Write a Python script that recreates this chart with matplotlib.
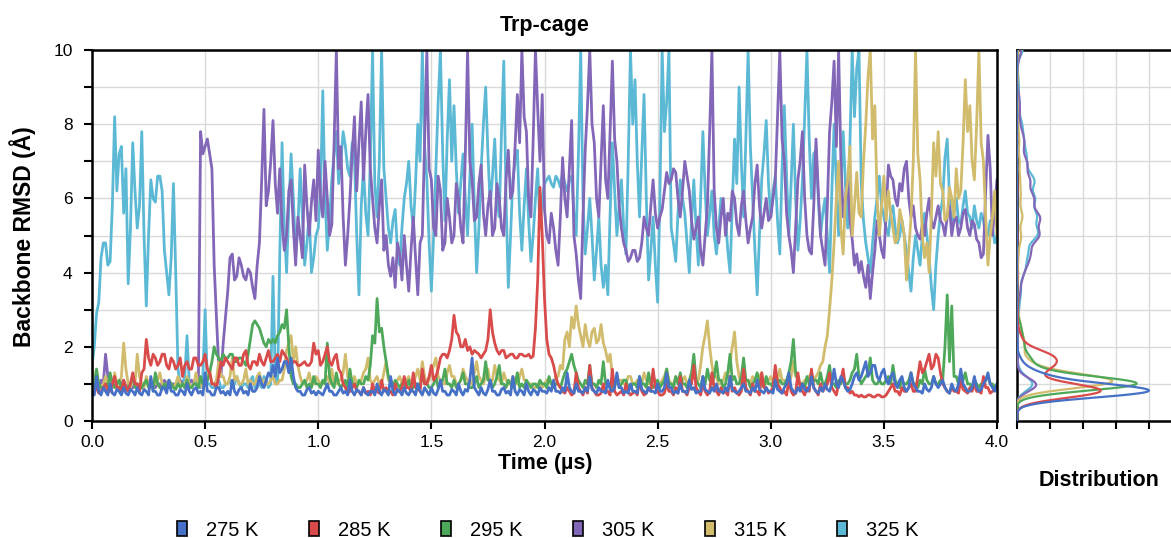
import numpy as np
import matplotlib
matplotlib.use("Agg")
import matplotlib.pyplot as plt
from matplotlib.patches import Patch

plt.rcParams['font.family'] = ['Liberation Sans', 'DejaVu Sans']

# ---------------- data (backbone RMSD in Å, one value every 0.01 µs, 0 .. 4 µs) ----------------
time_us = np.linspace(0.0, 4.0, 401)
labels = ["275 K", "285 K", "295 K", "305 K", "315 K", "325 K"]
colors = ["#4671c6", "#d94a4a", "#4ea85a", "#8266b8", "#d1bb6c", "#5cb9d5"]

rmsd_275 = [
    0.8,0.7,1.2,0.8,0.7,0.9,0.8,0.7,1.0,0.75,0.7,0.85,0.8,0.7,0.9,0.75,0.7,0.85,0.8,0.7,
    0.9,0.75,0.7,0.85,0.8,0.7,1.2,0.8,0.8,0.7,0.7,0.9,0.9,0.75,1.1,0.8,0.8,0.7,0.7,0.85,
    0.8,0.7,1.0,0.8,0.7,0.85,0.9,0.75,0.8,0.7,1.3,0.8,0.8,0.7,0.7,0.9,0.9,0.75,0.8,0.7,
    0.8,0.7,1.1,0.8,0.7,0.85,0.9,0.75,0.8,0.7,1.0,0.8,0.8,0.9,1.2,1.0,0.9,1.1,1.3,1.2,
    1.5,1.2,1.7,1.3,1.4,1.6,1.6,1.3,1.7,1.2,0.9,0.8,0.8,0.7,0.7,0.85,0.9,0.75,0.8,0.7,
    0.8,0.75,0.7,0.85,1.0,0.8,0.8,0.7,0.7,0.8,0.9,0.75,0.8,0.7,1.1,0.8,0.7,0.85,0.8,0.7,
    0.9,0.75,0.7,0.8,0.8,0.7,1.0,0.8,0.7,0.85,0.8,0.7,1.2,0.8,0.7,0.85,0.8,0.7,0.9,0.75,
    0.7,0.85,0.8,0.7,1.0,0.8,0.7,0.9,0.8,0.7,0.9,0.75,0.7,0.85,1.1,0.8,0.8,0.7,0.7,0.85,
    0.8,0.7,1.0,0.8,0.7,0.85,0.8,1.1,1.7,0.9,0.8,0.7,0.9,0.75,0.7,0.85,1.1,0.8,0.8,0.7,
    0.7,0.85,0.9,0.75,0.8,0.7,1.2,0.8,0.7,0.85,0.8,0.7,1.0,0.8,0.7,0.85,0.8,0.7,0.9,0.8,
    0.8,0.75,0.9,0.8,1.1,0.8,0.8,0.75,0.9,0.8,1.3,0.9,0.8,0.75,1.0,0.8,0.8,0.75,0.9,0.8,
    1.2,0.85,0.8,0.75,0.9,0.8,0.8,0.75,1.1,0.85,0.8,0.9,1.3,0.9,0.9,0.75,0.8,0.75,1.0,0.8,
    0.8,0.75,1.2,0.85,0.8,0.75,0.9,0.8,0.8,0.75,1.0,0.8,0.8,0.9,1.3,0.9,0.9,0.75,0.8,0.75,
    1.0,0.8,0.8,0.75,1.1,0.85,0.9,0.75,0.8,0.8,1.2,0.85,0.8,0.75,0.9,0.8,1.0,0.8,0.8,0.75,
    0.9,0.8,1.2,0.85,0.8,0.75,0.8,0.9,1.0,0.8,0.8,0.75,0.9,0.8,1.1,0.85,0.8,0.75,0.9,0.8,
    0.8,0.75,1.1,0.85,0.8,0.75,0.9,1.0,1.3,0.9,0.8,0.75,0.9,0.8,1.0,0.85,0.8,0.9,1.2,0.9,
    0.8,0.75,0.9,0.8,1.0,0.85,0.8,1.0,1.4,1.0,0.9,1.2,1.1,0.9,0.8,0.85,1.0,1.2,1.3,1.1,
    1.2,1.4,1.6,1.2,1.3,1.5,1.5,1.2,1.1,1.3,1.4,1.1,1.0,1.2,1.3,1.0,0.9,1.1,1.2,0.9,
    0.8,0.9,1.3,1.0,0.9,0.8,0.8,0.75,1.0,0.85,0.8,0.9,1.2,1.0,0.9,1.0,1.1,0.9,0.8,0.75,
    1.0,0.85,0.8,1.0,1.4,1.0,0.9,0.8,0.8,0.9,1.2,0.9,0.8,0.85,1.0,1.1,1.3,1.0,0.9,0.8,
    1.0,
]

rmsd_285 = [
    0.7,0.8,0.9,0.75,0.8,0.9,1.0,0.8,0.8,1.0,1.2,0.9,0.9,0.8,1.1,0.9,0.8,1.0,1.3,1.0,
    1.0,0.8,1.3,1.4,2.2,1.7,1.5,1.8,1.7,1.5,1.6,1.8,1.8,1.5,1.4,1.7,1.6,1.4,1.5,1.7,
    1.2,1.5,1.6,1.4,1.4,1.7,1.7,1.5,1.5,1.6,1.8,1.4,1.3,1.0,1.0,0.9,1.2,1.6,1.5,1.7,
    1.6,1.5,1.4,1.7,1.7,1.5,1.5,1.8,1.9,1.5,1.4,1.6,1.6,1.5,1.8,1.6,1.5,1.7,1.9,1.6,
    1.6,1.7,1.8,1.6,1.9,1.8,1.7,1.5,1.5,1.6,1.6,1.5,1.5,1.55,1.6,1.5,1.5,1.6,2.1,1.8,
    1.9,1.5,1.6,1.8,2.0,1.6,1.5,1.7,1.8,1.4,1.3,1.0,0.9,0.75,0.8,0.9,1.0,0.8,0.8,0.7,
    0.9,0.75,0.8,0.7,1.0,0.8,0.8,0.75,1.1,0.8,0.9,0.75,0.8,0.7,1.0,0.8,0.8,0.9,1.2,0.9,
    0.9,0.8,1.3,0.9,0.9,0.8,1.4,1.0,1.0,1.2,1.5,1.1,1.2,1.4,1.7,1.8,1.8,1.7,1.9,2.2,
    2.85,2.4,2.3,2.0,2.0,2.2,1.9,2.0,1.8,1.9,1.85,1.8,1.7,1.8,1.9,2.2,3.0,2.4,2.1,1.9,
    1.8,1.9,1.9,1.7,1.75,1.8,1.8,1.7,1.7,1.8,1.8,1.75,1.75,1.8,1.7,1.75,2.5,3.8,6.3,5.0,
    3.3,2.2,1.8,1.7,1.5,1.2,1.0,0.9,0.8,0.75,0.9,0.8,0.7,0.75,1.3,0.9,0.8,0.7,0.9,0.75,
    1.5,0.9,0.8,0.7,0.7,0.75,1.0,0.8,0.8,0.7,1.4,0.8,0.7,0.75,0.8,0.7,1.0,0.8,0.7,0.75,
    0.8,0.7,1.1,0.8,0.7,0.75,0.9,0.8,1.4,0.9,0.8,0.7,0.7,0.75,1.0,0.8,0.8,0.7,0.9,0.75,
    1.2,0.8,0.8,0.7,0.9,1.0,1.5,0.9,0.8,0.7,1.0,0.8,0.7,0.8,1.3,0.9,0.8,0.7,0.9,0.75,
    0.8,0.7,1.2,0.8,0.9,0.75,0.7,0.8,1.4,0.9,0.8,0.7,1.0,0.8,0.8,0.7,1.3,0.9,0.9,0.75,
    0.8,0.9,1.5,1.0,0.9,0.75,0.8,0.7,1.1,0.8,0.7,0.75,1.3,0.9,0.8,0.7,0.9,0.8,1.4,0.9,
    0.8,0.7,1.0,0.8,0.9,1.0,1.3,0.9,0.8,0.7,1.0,1.1,1.4,0.9,0.9,0.75,0.8,0.7,0.7,0.65,
    0.7,0.65,0.65,0.7,0.7,0.65,0.65,0.7,0.7,0.65,0.65,0.7,0.8,0.9,1.0,0.8,0.8,0.7,0.9,0.8,
    0.8,0.9,1.0,0.8,0.8,1.2,1.6,1.3,1.4,1.6,1.8,1.4,1.5,1.8,1.7,1.3,1.0,0.9,0.8,0.75,
    0.9,0.8,0.8,0.75,1.1,0.85,0.8,0.75,0.9,0.8,1.0,0.8,0.8,0.75,1.2,0.9,0.9,0.75,0.8,0.85,
    0.9,
]

rmsd_295 = [
    0.9,1.0,1.4,1.0,0.9,0.85,1.0,0.9,1.3,1.0,0.9,1.0,1.1,0.9,1.0,0.85,0.9,1.0,1.2,0.9,
    1.0,0.85,0.9,1.0,1.1,0.9,1.0,0.85,1.3,1.0,0.9,0.85,1.0,0.9,1.1,1.0,0.9,0.85,1.0,0.9,
    1.0,0.9,1.1,0.9,0.9,1.0,1.0,0.9,1.2,1.0,1.0,1.1,1.3,1.6,2.0,1.8,1.7,1.6,1.8,1.7,
    1.7,1.8,1.8,1.6,1.6,1.7,1.7,1.6,1.5,1.8,2.2,2.6,2.7,2.6,2.5,2.3,2.1,2.0,2.2,2.1,
    2.2,2.1,2.3,2.4,2.6,2.5,3.0,2.0,1.2,1.0,1.0,0.9,0.9,1.0,1.1,0.9,1.0,0.9,1.2,1.0,
    1.0,0.9,1.1,1.0,2.1,1.2,1.0,0.9,1.3,1.0,0.9,1.0,1.1,0.9,1.4,1.0,1.0,0.9,1.1,1.0,
    1.0,1.2,1.1,1.5,2.3,2.1,3.3,2.4,2.5,2.0,1.6,1.2,1.0,0.9,1.1,1.0,0.9,1.0,1.0,0.9,
    1.1,0.9,0.9,1.0,1.0,0.9,1.3,1.0,1.0,0.9,0.9,1.0,1.2,0.9,1.0,1.1,1.4,1.0,1.0,0.9,
    1.1,0.9,1.0,1.1,1.3,1.0,1.0,0.9,0.9,1.0,1.2,0.9,1.0,1.1,1.6,1.1,1.1,0.9,1.0,1.2,
    1.5,1.0,1.0,0.9,1.1,1.0,0.9,1.0,1.3,0.9,1.0,0.9,1.1,1.0,0.9,1.0,1.0,0.9,1.1,1.0,
    1.0,0.9,1.2,1.0,0.9,1.0,1.0,0.9,1.1,1.3,1.4,1.6,1.8,1.5,1.3,1.1,1.0,0.9,1.1,1.0,
    1.5,1.0,1.0,0.9,1.1,1.0,1.6,1.0,1.0,0.9,0.9,1.0,1.2,0.9,1.0,1.1,1.1,0.9,0.9,1.0,
    1.0,0.9,1.2,1.0,1.0,0.9,1.3,1.0,0.9,1.0,1.1,0.9,1.0,1.1,1.4,1.0,1.0,0.9,1.2,1.0,
    1.3,1.0,1.0,0.9,1.1,1.3,1.8,1.1,1.0,0.9,1.2,1.0,1.4,1.1,1.0,1.2,1.6,1.1,1.1,0.9,
    1.0,1.3,1.8,1.1,1.2,1.0,1.0,1.2,1.7,1.1,1.1,0.9,1.0,1.1,1.3,1.0,1.0,0.9,1.2,1.0,
    1.0,0.9,1.4,1.0,1.1,1.0,1.0,1.1,1.3,1.6,2.2,1.3,1.1,1.0,1.0,0.9,1.2,1.0,1.0,1.1,
    1.1,1.0,1.3,1.0,1.0,1.2,1.5,1.0,1.0,0.9,1.1,1.0,1.2,1.0,1.0,1.1,1.3,1.4,1.8,1.2,
    1.0,1.1,1.2,1.3,1.7,1.1,1.0,1.0,1.1,1.0,1.0,1.1,1.2,1.0,1.5,1.1,1.0,0.9,1.1,1.0,
    1.0,1.1,1.3,1.0,1.0,0.9,1.1,1.0,1.4,1.1,1.0,1.0,1.2,1.0,1.0,1.1,1.1,2.0,3.4,1.6,
    3.1,1.2,1.2,1.0,1.0,1.1,1.3,1.0,1.0,0.9,1.1,1.0,0.9,1.0,1.0,1.1,1.2,1.0,1.0,0.9,
    1.0,
]

rmsd_305 = [
    0.9,1.0,1.0,0.9,1.1,1.0,1.8,1.2,0.9,1.0,1.0,0.9,0.9,1.0,1.1,0.9,1.0,0.9,0.9,1.0,
    1.0,0.9,0.9,1.0,1.1,1.0,1.0,0.9,0.9,1.0,1.0,0.9,1.1,1.0,0.9,1.0,1.0,0.9,1.0,1.1,
    1.0,0.9,0.9,1.0,1.1,1.0,1.0,0.9,7.8,7.2,7.4,7.6,7.2,6.8,4.2,2.8,1.5,1.2,2.1,2.8,
    3.5,4.4,4.5,3.8,3.9,4.4,4.2,3.9,3.8,4.1,4.0,3.6,3.3,4.2,4.8,6.5,8.4,5.8,6.2,7.0,
    8.1,6.4,5.6,6.8,5.3,4.6,5.0,6.2,6.5,5.2,4.2,5.5,5.0,4.4,6.9,5.8,5.0,5.9,6.5,5.4,
    7.3,6.0,5.5,7.0,6.0,5.0,5.3,7.5,10.0,6.8,7.4,5.5,4.2,5.0,6.0,7.2,8.2,6.2,7.5,8.6,
    6.5,7.8,8.8,6.8,6.0,5.2,4.8,5.8,6.5,4.6,5.0,4.2,3.9,4.4,3.6,4.8,4.5,3.8,5.0,4.2,
    3.5,4.6,5.5,4.4,3.4,4.8,5.0,7.5,10.0,6.8,6.5,5.2,5.0,6.6,6.2,4.6,4.8,6.0,5.5,4.8,
    5.0,6.4,6.0,5.2,4.8,7.2,10.0,7.0,6.5,5.4,5.5,6.4,6.9,5.6,5.0,5.8,6.2,5.0,5.2,6.4,
    6.0,5.2,5.0,6.5,7.3,6.0,6.2,7.4,8.8,7.5,10.0,8.2,7.8,6.0,5.5,7.6,10.0,8.4,7.0,8.8,
    5.7,5.0,4.8,5.6,5.2,4.6,4.2,5.5,7.1,6.0,5.5,6.8,8.1,5.0,4.5,3.8,3.3,5.5,7.3,8.5,
    10.0,8.0,7.5,6.0,5.5,7.0,8.5,6.5,6.0,7.8,9.7,7.6,7.0,5.8,5.2,4.8,4.6,4.3,4.4,4.6,
    4.6,4.3,4.4,4.8,5.5,5.2,5.0,5.8,6.5,5.6,5.2,5.5,5.7,6.2,6.7,6.4,6.5,6.8,6.7,6.0,
    5.5,6.2,7.0,6.6,6.2,5.4,4.9,5.2,5.5,4.6,4.2,5.0,5.8,7.8,10.0,6.2,5.2,4.8,5.5,6.0,
    5.0,5.6,5.4,6.2,6.0,5.3,5.0,5.8,6.2,5.4,4.8,5.2,5.5,6.4,6.9,5.8,5.2,5.6,6.0,5.4,
    5.5,6.0,6.5,8.2,10.0,7.6,7.0,5.6,5.0,4.6,4.0,5.2,6.5,7.0,7.8,6.0,5.0,4.6,4.5,5.8,
    7.6,6.2,5.0,4.6,4.2,5.8,7.8,8.6,9.7,7.4,10.0,7.0,5.5,6.0,6.5,5.4,4.9,4.2,4.5,4.0,
    4.3,3.9,3.6,4.2,3.3,4.0,4.6,5.4,5.0,4.6,4.4,5.6,6.9,6.6,6.5,6.0,5.8,6.4,6.2,6.8,
    7.0,6.0,5.5,5.8,5.2,5.0,4.9,5.3,5.0,5.6,6.0,5.4,5.2,5.5,5.8,5.4,5.3,5.0,5.5,5.8,
    5.0,5.4,5.5,5.0,5.2,5.6,5.7,5.2,5.0,5.4,5.3,4.9,4.8,4.4,4.5,6.2,7.7,6.8,5.0,5.8,
    6.5,
]

rmsd_315 = [
    1.5,1.0,1.1,0.9,0.9,1.0,1.2,1.0,1.0,0.9,1.3,1.0,1.0,1.2,2.1,1.4,1.0,0.9,1.2,1.0,
    1.8,1.2,1.0,0.9,1.2,1.0,0.9,1.0,1.0,1.1,1.3,1.0,1.0,0.9,1.1,1.0,0.9,1.0,1.2,1.0,
    1.0,0.9,1.2,1.0,0.9,1.0,1.3,1.0,1.0,0.9,1.1,1.2,1.4,1.0,1.0,1.1,1.6,1.2,1.2,1.0,
    1.0,1.2,1.7,1.1,1.2,1.0,1.0,1.1,1.4,1.0,1.1,1.0,1.0,1.2,1.3,1.0,1.1,1.0,1.0,1.1,
    1.2,1.0,1.0,1.1,1.1,1.4,1.9,2.1,2.3,1.6,2.0,1.5,1.2,1.0,1.0,1.1,1.3,1.0,1.0,1.2,
    1.1,1.0,1.0,1.1,1.2,1.0,1.4,1.0,1.0,1.1,1.1,1.3,1.8,1.2,1.0,1.0,1.2,1.0,1.0,1.1,
    1.3,1.4,1.7,1.1,1.0,1.1,1.2,1.0,1.0,1.3,1.6,1.1,1.1,1.0,1.0,1.1,1.2,1.0,1.0,1.1,
    1.2,1.0,1.0,1.2,1.4,1.1,1.6,1.2,1.0,1.1,1.3,1.5,1.7,1.2,1.1,1.0,1.0,1.3,1.5,1.2,
    1.2,1.0,1.0,1.1,1.4,1.2,1.1,1.0,1.0,1.3,1.6,1.2,1.1,1.0,1.2,1.4,1.0,1.1,1.5,1.2,
    1.1,1.0,1.3,1.1,1.0,1.0,1.2,1.1,1.0,1.2,1.4,1.1,1.1,1.0,1.0,0.9,0.9,1.0,1.0,0.9,
    1.0,1.1,1.1,1.0,1.0,1.2,1.2,1.5,1.4,2.2,2.4,2.0,2.8,2.5,3.1,2.6,2.3,2.0,2.6,2.2,
    2.0,2.4,2.5,2.1,2.2,2.6,2.1,1.9,1.6,1.8,1.2,1.0,1.0,1.1,1.1,1.0,1.0,1.2,1.2,1.0,
    1.0,1.1,1.1,1.0,1.3,1.1,1.0,1.0,1.2,1.1,1.0,1.0,1.1,1.2,1.4,1.1,1.0,1.0,1.2,1.1,
    1.0,1.1,1.2,1.0,1.0,1.1,1.3,1.1,1.1,1.5,2.0,2.3,2.7,2.0,1.5,1.2,1.2,1.0,1.0,1.1,
    1.3,1.2,1.6,2.0,2.4,1.6,1.2,1.0,1.0,1.1,1.1,1.0,1.2,1.1,1.0,1.2,1.3,1.0,1.0,1.1,
    1.2,1.0,1.0,1.1,1.4,1.1,1.1,1.0,1.0,1.2,1.6,1.2,1.2,1.0,1.0,1.1,1.1,1.2,1.3,1.1,
    1.2,1.3,1.5,1.6,2.0,2.3,3.0,3.8,4.8,6.0,7.0,5.2,4.5,6.0,6.5,7.4,5.0,5.8,6.7,5.6,
    5.5,7.0,8.0,9.3,10.0,7.6,8.5,6.0,5.0,5.8,6.6,5.4,6.2,5.6,5.2,4.8,4.9,5.7,5.4,5.0,
    3.8,4.6,5.5,7.0,10.0,7.2,6.5,5.0,4.4,4.8,4.0,5.6,7.5,6.6,7.8,6.4,6.2,5.4,5.5,6.3,
    6.0,5.5,6.8,6.0,6.2,7.5,9.2,7.8,8.5,7.0,6.5,8.0,10.0,7.5,7.0,5.5,4.2,5.0,5.5,6.2,
    5.0,
]

rmsd_325 = [
    1.5,2.0,2.9,3.2,4.4,4.8,4.8,4.2,4.3,5.8,8.2,6.2,7.2,7.4,5.6,6.8,3.7,5.2,7.5,6.2,
    5.2,5.8,7.8,5.0,3.1,5.0,6.5,6.0,5.9,6.6,6.6,6.2,4.6,4.0,3.4,4.4,6.4,4.0,1.4,1.0,
    1.0,1.2,2.3,1.0,0.9,1.0,1.1,0.9,0.9,1.2,3.0,1.0,1.0,0.9,0.9,1.1,1.1,0.9,0.9,1.0,
    1.0,1.1,0.9,1.0,1.2,1.0,0.9,1.0,1.0,0.9,1.1,1.2,0.9,1.0,1.0,0.9,1.2,1.1,0.9,1.0,
    3.9,1.2,1.0,4.5,7.5,5.2,4.0,5.8,7.2,6.0,4.5,5.2,6.8,5.5,4.2,4.8,5.6,4.0,4.4,5.0,
    5.2,6.2,8.9,6.0,4.6,5.4,6.5,7.2,7.8,6.4,7.0,7.8,7.4,6.8,6.6,7.5,7.1,5.0,3.4,5.8,
    6.8,5.6,5.0,7.0,10.0,6.4,5.5,7.0,10.0,6.8,6.0,5.2,4.8,5.4,5.7,4.6,4.2,5.2,6.0,6.4,
    7.0,5.8,5.2,6.4,8.0,7.0,10.0,7.4,6.5,4.8,3.5,5.0,6.8,8.6,10.0,7.2,5.4,7.6,9.2,7.0,
    8.5,6.8,5.6,6.4,7.2,6.0,5.0,6.6,8.0,5.8,4.0,5.2,6.8,8.0,9.0,7.2,5.8,6.6,7.6,6.0,
    5.5,7.8,9.7,6.0,3.6,5.0,6.5,7.0,7.3,5.6,4.6,5.8,6.8,5.4,4.3,5.0,6.0,6.8,5.2,6.0,
    6.4,6.5,6.6,6.4,6.3,6.6,6.5,6.3,6.7,6.4,6.2,6.5,6.6,5.6,5.0,7.2,10.0,6.0,4.5,5.2,
    6.0,5.0,3.8,4.6,5.5,4.2,3.6,4.2,3.4,5.6,7.5,6.2,5.0,5.8,6.5,5.2,4.5,7.0,10.0,8.0,
    9.2,7.0,5.5,7.2,8.8,6.0,3.8,4.6,5.5,4.2,3.2,6.0,10.0,7.8,8.6,10.0,5.2,4.8,4.3,5.6,
    6.5,6.0,5.6,4.8,4.0,5.4,6.5,5.2,4.2,6.0,7.8,6.2,5.0,5.6,6.2,5.0,4.5,5.2,6.0,5.6,
    5.5,4.6,4.0,5.8,7.6,6.4,9.0,7.0,5.5,7.6,10.0,7.4,6.0,4.6,3.4,5.0,6.5,7.2,8.1,6.4,
    5.5,6.2,6.6,5.4,4.5,6.8,8.5,6.6,5.0,6.4,8.0,6.0,4.6,5.4,6.5,8.2,10.0,7.6,6.0,7.2,
    7.3,6.0,5.0,5.6,6.0,5.0,4.0,6.2,8.0,6.4,5.0,6.2,7.8,6.4,5.2,7.5,10.0,8.2,9.5,10.0,
    6.4,5.4,4.8,4.4,4.0,4.8,5.5,6.0,6.6,5.8,5.5,5.2,5.0,5.6,5.8,5.2,4.8,5.0,5.4,5.0,
    4.6,4.0,3.5,4.4,5.0,4.6,4.2,5.0,5.6,5.0,4.4,3.6,3.0,4.2,5.0,5.6,6.0,7.1,7.6,6.0,
    5.2,5.6,6.0,5.4,5.3,5.8,6.2,5.6,5.5,5.2,5.8,5.4,5.2,5.6,5.4,5.0,5.0,5.4,5.2,4.8,
    5.0,
]

series = [rmsd_275, rmsd_285, rmsd_295, rmsd_305, rmsd_315, rmsd_325]

# ---------------- figure ----------------
W, H = 1171.0, 538.0
fig = plt.figure(figsize=(W / 100, H / 100), dpi=100)
ax = fig.add_axes([92 / W, 1 - 421 / H, (997 - 92) / W, (421 - 50) / H])
axd = fig.add_axes([1017 / W, 1 - 421 / H, (1215 - 1017) / W, (421 - 50) / H])

grid_c = "#d9d9d9"
draw_order = [5, 3, 4, 2, 1, 0]
for n, k in enumerate(draw_order):
    ax.plot(time_us, series[k], color=colors[k], lw=2.0, zorder=2 + n * 0.1)

ax.set_xlim(0, 4.0)
ax.set_ylim(0, 10)
xt = np.arange(0, 4.01, 0.5)
ax.set_xticks(xt)
ax.set_xticklabels([f"{v:.1f}" for v in xt])
ax.set_yticks(np.arange(0, 10.1, 2))
ax.set_yticks(np.arange(0, 10.1, 1), minor=True)
ax.grid(True, which="major", axis="x", color=grid_c, lw=1.0, zorder=0)
ax.grid(True, which="both", axis="y", color=grid_c, lw=1.0, zorder=0)
ax.tick_params(axis="both", which="both", direction="out", length=6, width=1.5,
               labelsize=12.5, color="black")
ax.tick_params(axis="x", pad=4)
ax.tick_params(axis="y", pad=8)
for s in ax.spines.values():
    s.set_linewidth(1.8)
    s.set_color("black")
    s.set_zorder(5)

fig.text(545 / W, 1 - 25 / H, "Trp-cage", fontsize=15.5, fontweight="bold",
         ha="center", va="center")
fig.text(23 / W, 1 - 237 / H, "Backbone RMSD (Å)", fontsize=16.5, fontweight="bold",
         ha="center", va="center", rotation=90)
fig.text(545 / W, 1 - 464 / H, "Time (µs)", fontsize=15.5, fontweight="bold",
         ha="center", va="center")

# ---------------- distribution panel ----------------
ygrid = np.linspace(0, 10, 600)
bw = 0.16
dens = []
for k in range(6):
    v = np.asarray(series[k])
    d = np.exp(-0.5 * ((ygrid[:, None] - v[None, :]) / bw) ** 2).sum(axis=1)
    d /= (len(v) * bw * np.sqrt(2 * np.pi))
    dens.append(d)
scale = 4.0 / dens[0].max()
for n, k in enumerate(draw_order):
    axd.plot(dens[k] * scale, ygrid, color=colors[k], lw=1.6, zorder=3 + n * 0.1)
axd.set_xlim(0, 6)
axd.set_ylim(0, 10)
axd.set_xticks(np.arange(0, 6.1, 1))
axd.set_xticklabels([])
axd.set_yticks(np.arange(0, 10.1, 1))
axd.set_yticklabels([])
axd.grid(True, color=grid_c, lw=1.0, zorder=0)
axd.tick_params(axis="x", direction="out", length=6, width=1.5)
axd.tick_params(axis="y", length=0)
for s in axd.spines.values():
    s.set_linewidth(1.8)
    s.set_color("black")
fig.text(1099 / W, 1 - 481 / H, "Distribution", fontsize=15.5, fontweight="bold",
         ha="center", va="center")

# ---------------- legend ----------------
handles = [Patch(facecolor=colors[k], edgecolor="black", linewidth=1.2, label=labels[k])
           for k in range(6)]
fig.legend(handles=handles, loc="center left", bbox_to_anchor=(177 / W, 1 - 530 / H),
           ncol=6, frameon=False, fontsize=14.5, handlelength=0.5, handleheight=0.75,
           handletextpad=0.95, columnspacing=2.5, borderaxespad=0, borderpad=0)

fig.savefig("out.png", dpi=100)
